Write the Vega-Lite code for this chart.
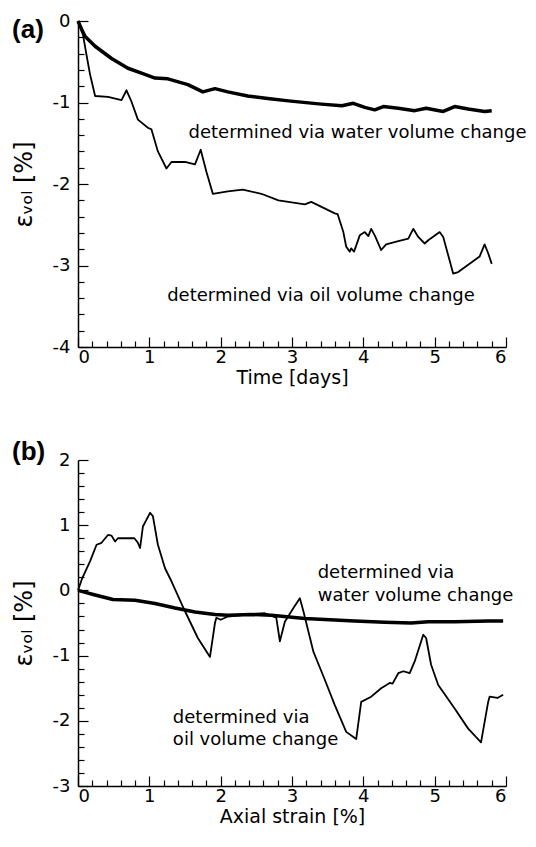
{
  "$schema": "https://vega.github.io/schema/vega-lite/v6.json",
  "padding": {"left": 12, "top": 12, "right": 0, "bottom": 0},
  "background": "white",
  "config": {
    "view": {"stroke": null},
    "font": "DejaVu Sans",
    "axis": {
      "domainColor": "black", "domainWidth": 1.5,
      "tickColor": "black", "tickWidth": 1.2,
      "labelColor": "black", "labelFont": "DejaVu Sans", "labelFontSize": 18,
      "titleFont": "DejaVu Sans", "titleFontSize": 19, "titleColor": "black", "titleFontWeight": "normal",
      "grid": false, "labelOverlap": false
    }
  },
  "spacing": 52,
  "vconcat": [
    {
      "width": 428, "height": 326,
      "title": {"text": "(a)", "anchor": "start", "frame": "bounds", "fontSize": 26, "fontWeight": "bold", "font": "Liberation Sans", "color": "black", "offset": -31},
      "resolve": {"axis": {"x": "independent", "y": "independent"}},
      "layer": [
        {
          "data": {"values": [
            {"s": "water", "x": 0, "y": 0}, {"s": "water", "x": 0.05, "y": -0.1}, {"s": "water", "x": 0.1, "y": -0.19}, {"s": "water", "x": 0.24, "y": -0.31}, {"s": "water", "x": 0.47, "y": -0.46}, {"s": "water", "x": 0.7, "y": -0.58}, {"s": "water", "x": 0.89, "y": -0.64}, {"s": "water", "x": 1.08, "y": -0.7}, {"s": "water", "x": 1.26, "y": -0.71}, {"s": "water", "x": 1.54, "y": -0.78}, {"s": "water", "x": 1.75, "y": -0.87}, {"s": "water", "x": 1.92, "y": -0.83}, {"s": "water", "x": 2.1, "y": -0.87}, {"s": "water", "x": 2.38, "y": -0.92}, {"s": "water", "x": 2.66, "y": -0.95}, {"s": "water", "x": 2.95, "y": -0.98}, {"s": "water", "x": 3.41, "y": -1.02}, {"s": "water", "x": 3.7, "y": -1.04}, {"s": "water", "x": 3.86, "y": -1.01}, {"s": "water", "x": 4.02, "y": -1.06}, {"s": "water", "x": 4.16, "y": -1.09}, {"s": "water", "x": 4.28, "y": -1.05}, {"s": "water", "x": 4.49, "y": -1.07}, {"s": "water", "x": 4.72, "y": -1.1}, {"s": "water", "x": 4.88, "y": -1.07}, {"s": "water", "x": 5.12, "y": -1.11}, {"s": "water", "x": 5.28, "y": -1.05}, {"s": "water", "x": 5.47, "y": -1.08}, {"s": "water", "x": 5.7, "y": -1.11}, {"s": "water", "x": 5.8, "y": -1.1},
            {"s": "oil", "x": 0, "y": 0}, {"s": "oil", "x": 0.07, "y": -0.17}, {"s": "oil", "x": 0.12, "y": -0.42}, {"s": "oil", "x": 0.17, "y": -0.66}, {"s": "oil", "x": 0.24, "y": -0.92}, {"s": "oil", "x": 0.42, "y": -0.93}, {"s": "oil", "x": 0.61, "y": -0.97}, {"s": "oil", "x": 0.68, "y": -0.85}, {"s": "oil", "x": 0.75, "y": -0.99}, {"s": "oil", "x": 0.84, "y": -1.21}, {"s": "oil", "x": 0.98, "y": -1.31}, {"s": "oil", "x": 1.03, "y": -1.33}, {"s": "oil", "x": 1.12, "y": -1.6}, {"s": "oil", "x": 1.24, "y": -1.81}, {"s": "oil", "x": 1.31, "y": -1.73}, {"s": "oil", "x": 1.5, "y": -1.73}, {"s": "oil", "x": 1.64, "y": -1.76}, {"s": "oil", "x": 1.72, "y": -1.58}, {"s": "oil", "x": 1.8, "y": -1.85}, {"s": "oil", "x": 1.89, "y": -2.12}, {"s": "oil", "x": 2.1, "y": -2.09}, {"s": "oil", "x": 2.31, "y": -2.07}, {"s": "oil", "x": 2.57, "y": -2.12}, {"s": "oil", "x": 2.81, "y": -2.2}, {"s": "oil", "x": 3.18, "y": -2.25}, {"s": "oil", "x": 3.27, "y": -2.22}, {"s": "oil", "x": 3.6, "y": -2.36}, {"s": "oil", "x": 3.64, "y": -2.37}, {"s": "oil", "x": 3.72, "y": -2.59}, {"s": "oil", "x": 3.76, "y": -2.77}, {"s": "oil", "x": 3.81, "y": -2.83}, {"s": "oil", "x": 3.83, "y": -2.79}, {"s": "oil", "x": 3.87, "y": -2.83}, {"s": "oil", "x": 3.95, "y": -2.63}, {"s": "oil", "x": 4.02, "y": -2.59}, {"s": "oil", "x": 4.07, "y": -2.64}, {"s": "oil", "x": 4.11, "y": -2.55}, {"s": "oil", "x": 4.16, "y": -2.63}, {"s": "oil", "x": 4.25, "y": -2.81}, {"s": "oil", "x": 4.32, "y": -2.74}, {"s": "oil", "x": 4.49, "y": -2.7}, {"s": "oil", "x": 4.63, "y": -2.67}, {"s": "oil", "x": 4.7, "y": -2.55}, {"s": "oil", "x": 4.77, "y": -2.65}, {"s": "oil", "x": 4.86, "y": -2.73}, {"s": "oil", "x": 4.91, "y": -2.69}, {"s": "oil", "x": 5.07, "y": -2.59}, {"s": "oil", "x": 5.12, "y": -2.65}, {"s": "oil", "x": 5.26, "y": -3.1}, {"s": "oil", "x": 5.33, "y": -3.08}, {"s": "oil", "x": 5.63, "y": -2.89}, {"s": "oil", "x": 5.7, "y": -2.74}, {"s": "oil", "x": 5.75, "y": -2.85}, {"s": "oil", "x": 5.8, "y": -2.98}
          ]},
          "mark": {"type": "line", "color": "black", "strokeJoin": "round"},
          "encoding": {
            "x": {"field": "x", "type": "quantitative", "scale": {"domain": [0, 6], "nice": false},
              "axis": {"orient": "bottom", "title": "Time [days]", "values": [0, 1, 2, 3, 4, 5, 6], "format": "d", "tickSize": -10, "labelPadding": 11, "titlePadding": 2}},
            "y": {"field": "y", "type": "quantitative", "scale": {"domain": [-4, 0], "nice": false},
              "axis": {"orient": "left", "title": "εᵥₒₗ [%]", "titleFontSize": 24, "values": [-4, -3, -2, -1, 0], "labelExpr": "''+datum.value", "tickSize": -10, "labelPadding": 18, "titlePadding": 16}},
            "detail": {"field": "s"},
            "strokeWidth": {"field": "s", "type": "nominal", "scale": {"domain": ["water", "oil"], "range": [3.5, 1.8]}, "legend": null}
          }
        },
        {
          "data": {"values": [
            {"x": 1.55, "y": -1.37, "t": "determined via water volume change"},
            {"x": 1.25, "y": -3.38, "t": "determined via oil volume change"}
          ]},
          "mark": {"type": "text", "align": "left", "baseline": "middle", "fontSize": 18, "font": "DejaVu Sans", "color": "black"},
          "encoding": {
            "x": {"field": "x", "type": "quantitative",
              "axis": {"orient": "bottom", "title": null, "labels": false, "domain": false, "tickSize": -6, "values": [0.2,0.4,0.6,0.8,1.2,1.4,1.6,1.8,2.2,2.4,2.6,2.8,3.2,3.4,3.6,3.8,4.2,4.4,4.6,4.8,5.2,5.4,5.6,5.8]}},
            "y": {"field": "y", "type": "quantitative",
              "axis": {"orient": "left", "title": null, "labels": false, "domain": false, "tickSize": -6, "values": [-3.8,-3.6,-3.4,-3.2,-2.8,-2.6,-2.4,-2.2,-1.8,-1.6,-1.4,-1.2,-0.8,-0.6,-0.4,-0.2]}},
            "text": {"field": "t"}
          }
        }
      ]
    },
    {
      "width": 428, "height": 326,
      "title": {"text": "(b)", "anchor": "start", "frame": "bounds", "fontSize": 26, "fontWeight": "bold", "font": "Liberation Sans", "color": "black", "offset": -14},
      "resolve": {"axis": {"x": "independent", "y": "independent"}},
      "layer": [
        {
          "data": {"values": [
            {"s": "water", "x": 0, "y": 0}, {"s": "water", "x": 0.24, "y": -0.07}, {"s": "water", "x": 0.49, "y": -0.14}, {"s": "water", "x": 0.8, "y": -0.15}, {"s": "water", "x": 1.08, "y": -0.2}, {"s": "water", "x": 1.36, "y": -0.27}, {"s": "water", "x": 1.64, "y": -0.33}, {"s": "water", "x": 1.92, "y": -0.37}, {"s": "water", "x": 2.1, "y": -0.38}, {"s": "water", "x": 2.43, "y": -0.37}, {"s": "water", "x": 2.71, "y": -0.38}, {"s": "water", "x": 3.18, "y": -0.43}, {"s": "water", "x": 3.88, "y": -0.47}, {"s": "water", "x": 4.3, "y": -0.49}, {"s": "water", "x": 4.67, "y": -0.5}, {"s": "water", "x": 4.91, "y": -0.48}, {"s": "water", "x": 5.28, "y": -0.48}, {"s": "water", "x": 5.75, "y": -0.47}, {"s": "water", "x": 5.96, "y": -0.47},
            {"s": "oil", "x": 0, "y": 0}, {"s": "oil", "x": 0.06, "y": 0.19}, {"s": "oil", "x": 0.17, "y": 0.45}, {"s": "oil", "x": 0.26, "y": 0.7}, {"s": "oil", "x": 0.33, "y": 0.73}, {"s": "oil", "x": 0.42, "y": 0.85}, {"s": "oil", "x": 0.47, "y": 0.84}, {"s": "oil", "x": 0.52, "y": 0.75}, {"s": "oil", "x": 0.56, "y": 0.8}, {"s": "oil", "x": 0.79, "y": 0.8}, {"s": "oil", "x": 0.84, "y": 0.73}, {"s": "oil", "x": 0.87, "y": 0.65}, {"s": "oil", "x": 0.91, "y": 0.98}, {"s": "oil", "x": 1.01, "y": 1.19}, {"s": "oil", "x": 1.05, "y": 1.14}, {"s": "oil", "x": 1.12, "y": 0.7}, {"s": "oil", "x": 1.22, "y": 0.34}, {"s": "oil", "x": 1.31, "y": 0.14}, {"s": "oil", "x": 1.5, "y": -0.32}, {"s": "oil", "x": 1.68, "y": -0.73}, {"s": "oil", "x": 1.85, "y": -1.02}, {"s": "oil", "x": 1.92, "y": -0.5}, {"s": "oil", "x": 1.94, "y": -0.42}, {"s": "oil", "x": 2.0, "y": -0.45}, {"s": "oil", "x": 2.1, "y": -0.4}, {"s": "oil", "x": 2.3, "y": -0.38}, {"s": "oil", "x": 2.45, "y": -0.36}, {"s": "oil", "x": 2.62, "y": -0.35}, {"s": "oil", "x": 2.78, "y": -0.42}, {"s": "oil", "x": 2.83, "y": -0.78}, {"s": "oil", "x": 2.9, "y": -0.48}, {"s": "oil", "x": 3.02, "y": -0.27}, {"s": "oil", "x": 3.11, "y": -0.12}, {"s": "oil", "x": 3.16, "y": -0.32}, {"s": "oil", "x": 3.3, "y": -0.94}, {"s": "oil", "x": 3.46, "y": -1.37}, {"s": "oil", "x": 3.6, "y": -1.76}, {"s": "oil", "x": 3.76, "y": -2.17}, {"s": "oil", "x": 3.9, "y": -2.28}, {"s": "oil", "x": 3.97, "y": -1.71}, {"s": "oil", "x": 4.11, "y": -1.63}, {"s": "oil", "x": 4.25, "y": -1.5}, {"s": "oil", "x": 4.37, "y": -1.42}, {"s": "oil", "x": 4.41, "y": -1.43}, {"s": "oil", "x": 4.49, "y": -1.27}, {"s": "oil", "x": 4.56, "y": -1.24}, {"s": "oil", "x": 4.65, "y": -1.27}, {"s": "oil", "x": 4.72, "y": -1.09}, {"s": "oil", "x": 4.84, "y": -0.68}, {"s": "oil", "x": 4.88, "y": -0.73}, {"s": "oil", "x": 4.95, "y": -1.14}, {"s": "oil", "x": 5.05, "y": -1.45}, {"s": "oil", "x": 5.28, "y": -1.81}, {"s": "oil", "x": 5.47, "y": -2.12}, {"s": "oil", "x": 5.65, "y": -2.33}, {"s": "oil", "x": 5.75, "y": -1.71}, {"s": "oil", "x": 5.77, "y": -1.63}, {"s": "oil", "x": 5.88, "y": -1.65}, {"s": "oil", "x": 5.96, "y": -1.6}
          ]},
          "mark": {"type": "line", "color": "black", "strokeJoin": "round"},
          "encoding": {
            "x": {"field": "x", "type": "quantitative", "scale": {"domain": [0, 6], "nice": false},
              "axis": {"orient": "bottom", "title": "Axial strain [%]", "values": [0, 1, 2, 3, 4, 5, 6], "format": "d", "tickSize": -10, "labelPadding": 11, "titlePadding": 2}},
            "y": {"field": "y", "type": "quantitative", "scale": {"domain": [-3, 2], "nice": false},
              "axis": {"orient": "left", "title": "εᵥₒₗ [%]", "titleFontSize": 24, "values": [-3, -2, -1, 0, 1, 2], "labelExpr": "''+datum.value", "tickSize": -10, "labelPadding": 18, "titlePadding": 16}},
            "detail": {"field": "s"},
            "strokeWidth": {"field": "s", "type": "nominal", "scale": {"domain": ["water", "oil"], "range": [3.5, 1.8]}, "legend": null}
          }
        },
        {
          "data": {"values": [
            {"x": 3.36, "y": 0.27, "t": "determined via"},
            {"x": 3.36, "y": -0.09, "t": "water volume change"},
            {"x": 1.33, "y": -1.96, "t": "determined via"},
            {"x": 1.33, "y": -2.3, "t": "oil volume change"}
          ]},
          "mark": {"type": "text", "align": "left", "baseline": "middle", "fontSize": 18, "font": "DejaVu Sans", "color": "black"},
          "encoding": {
            "x": {"field": "x", "type": "quantitative",
              "axis": {"orient": "bottom", "title": null, "labels": false, "domain": false, "tickSize": -6, "values": [0.2,0.4,0.6,0.8,1.2,1.4,1.6,1.8,2.2,2.4,2.6,2.8,3.2,3.4,3.6,3.8,4.2,4.4,4.6,4.8,5.2,5.4,5.6,5.8]}},
            "y": {"field": "y", "type": "quantitative",
              "axis": {"orient": "left", "title": null, "labels": false, "domain": false, "tickSize": -6, "values": [-2.8,-2.6,-2.4,-2.2,-1.8,-1.6,-1.4,-1.2,-0.8,-0.6,-0.4,-0.2,0.2,0.4,0.6,0.8,1.2,1.4,1.6,1.8]}},
            "text": {"field": "t"}
          }
        }
      ]
    }
  ]
}
